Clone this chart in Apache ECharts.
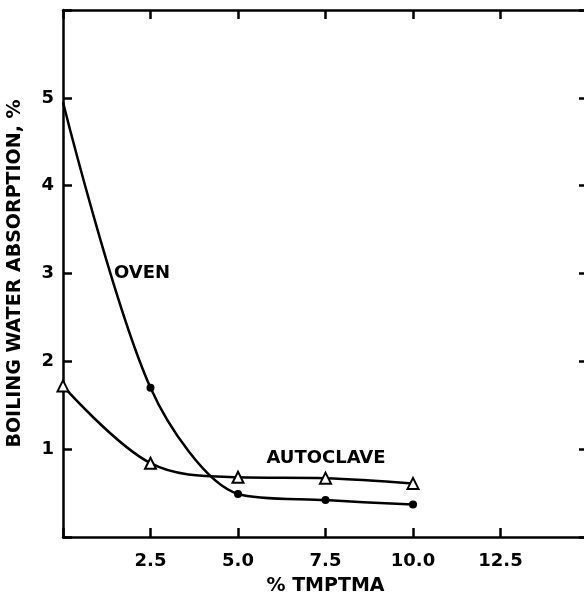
<!DOCTYPE html>
<html>
<head>
<meta charset="utf-8">
<script src="https://cdn.jsdelivr.net/npm/echarts@6/dist/echarts.min.js"></script>
<style>html,body{margin:0;padding:0;background:#fff;}#c{width:584px;height:600px;}</style>
</head>
<body>
<div id="c"></div>
<script>
var tmptma = [0, 2.5, 5.0, 7.5, 10.0];
var oven = [4.95, 1.70, 0.49, 0.42, 0.37];
var autoclave = [1.72, 0.84, 0.68, 0.67, 0.61];
var xTickLabels = ['2.5', '5.0', '7.5', '10.0', '12.5'];
var yTickLabels = ['1', '2', '3', '4', '5'];

var FONT = 'DejaVu Sans';
var chart = echarts.init(document.getElementById('c'), null, {renderer: 'canvas'});

function pairs(xs, ys, hideFirst) {
  return xs.map(function (x, i) {
    var d = {value: [x, ys[i]]};
    if (hideFirst && i === 0) d.symbolSize = 0;
    return d;
  });
}

var axisLine = {show: true, onZero: false, lineStyle: {color: '#000', width: 2.5}};
var tickIn = {show: true, inside: true, length: 9, lineStyle: {color: '#000', width: 2.5}};

chart.setOption({
  backgroundColor: '#fff',
  animation: false,
  grid: {left: 63, top: 10, width: 525, height: 527, containLabel: false, outerBoundsMode: 'none'},
  xAxis: [{
    type: 'value', min: 0, max: 15, interval: 2.5, position: 'bottom',
    axisLine: axisLine, axisTick: tickIn, splitLine: {show: false},
    axisLabel: {
      margin: 15, color: '#000', fontFamily: FONT, fontWeight: 'bold', fontSize: 18,
      formatter: function (v) {
        var idx = Math.round(v / 2.5) - 1;
        return (idx >= 0 && idx < xTickLabels.length) ? xTickLabels[idx] : '';
      }
    },
    name: '% TMPTMA', nameLocation: 'middle', nameGap: 40,
    nameTextStyle: {color: '#000', fontFamily: FONT, fontWeight: 'bold', fontSize: 19}
  }, {
    type: 'value', min: 0, max: 15, interval: 2.5, position: 'top',
    axisLine: axisLine, axisTick: tickIn, axisLabel: {show: false}, splitLine: {show: false}
  }],
  yAxis: [{
    type: 'value', min: 0, max: 6, interval: 1, position: 'left',
    axisLine: axisLine, axisTick: tickIn, splitLine: {show: false},
    axisLabel: {
      margin: 9, color: '#000', fontFamily: FONT, fontWeight: 'bold', fontSize: 18,
      formatter: function (v) {
        var idx = Math.round(v) - 1;
        return (idx >= 0 && idx < yTickLabels.length) ? yTickLabels[idx] : '';
      }
    },
    name: 'BOILING WATER ABSORPTION, %', nameLocation: 'middle', nameGap: 38, nameRotate: 90,
    nameTextStyle: {color: '#000', fontFamily: FONT, fontWeight: 'bold', fontSize: 19}
  }, {
    type: 'value', min: 0, max: 6, interval: 1, position: 'right',
    axisLine: axisLine, axisTick: tickIn, axisLabel: {show: false}, splitLine: {show: false}
  }],
  series: [{
    name: 'OVEN', type: 'line', smooth: 0.3,
    data: pairs(tmptma, oven, true),
    symbol: 'circle', symbolSize: 8,
    lineStyle: {color: '#000', width: 2.5},
    itemStyle: {color: '#000', borderColor: '#000', borderWidth: 0},
    z: 3
  }, {
    name: 'AUTOCLAVE', type: 'line', smooth: 0.35,
    data: pairs(tmptma, autoclave, false),
    symbol: 'triangle', symbolSize: 11,
    lineStyle: {color: '#000', width: 2.5},
    itemStyle: {color: '#fff', borderColor: '#000', borderWidth: 2},
    z: 4
  }],
  graphic: [{
    type: 'text', x: 142, y: 273,
    style: {text: 'OVEN', fill: '#000', font: 'bold 18px "DejaVu Sans"', align: 'center', verticalAlign: 'middle'}
  }, {
    type: 'text', x: 326, y: 458,
    style: {text: 'AUTOCLAVE', fill: '#000', font: 'bold 18px "DejaVu Sans"', align: 'center', verticalAlign: 'middle'}
  }]
});
</script>
</body>
</html>
